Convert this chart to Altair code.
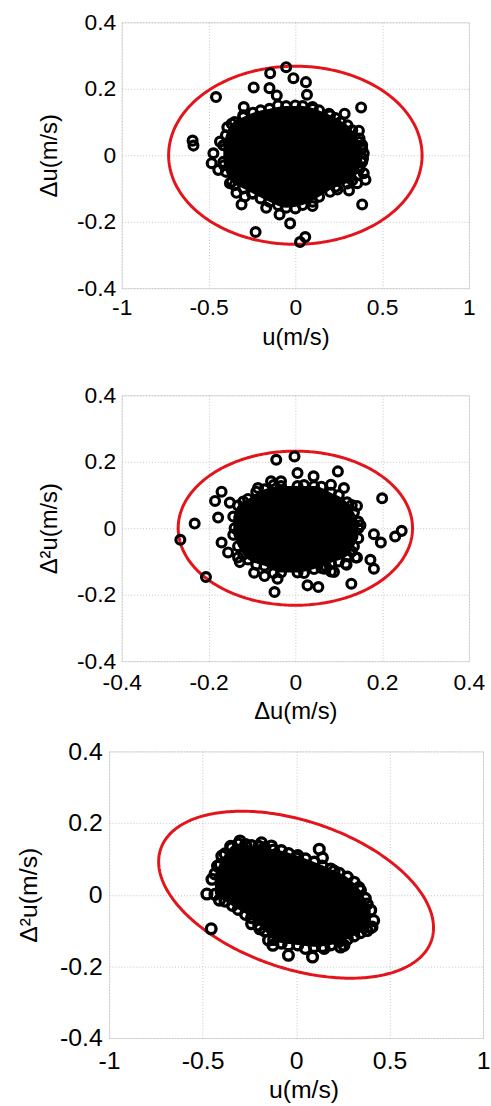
import altair as alt
import numpy as np
import pandas as pd

FONT = "Liberation Sans"

# ---- Panel 1: u against Δu ----
P1_U = [-0.053, -0.145, -0.011, 0.061, -0.240, -0.149, -0.107, 0.067, -0.457, 0.379,
        -0.297, -0.592, -0.587, 0.194, 0.284, 0.261, 0.366, -0.392, -0.434, -0.472,
        -0.482, -0.444, 0.394, 0.404, 0.385, 0.242, 0.309, -0.310, -0.291, -0.339,
        -0.168, -0.091, -0.030, -0.229, 0.027, 0.057, 0.099, -0.377, 0.356, 0.385,
        0.394, 0.099, 0.390, 0.370,
        -0.350, -0.300, -0.200, -0.100, 0.000, 0.100, 0.200, 0.300,
        -0.350, -0.250, -0.200, -0.100, 0.000, 0.100, 0.200, 0.300, 0.360,
        -0.410, -0.410, 0.380, 0.380]
P1_DU = [0.265, 0.247, 0.232, 0.220, 0.204, 0.202, 0.180, 0.182, 0.175, 0.144,
         0.145, 0.044, 0.029, 0.125, 0.125, 0.100, 0.074, 0.084, 0.041, 0.006,
         -0.024, -0.044, -0.054, -0.074, -0.148, -0.103, -0.106, -0.148, -0.124, -0.113,
         -0.158, -0.178, -0.205, -0.231, -0.261, -0.246, -0.153, -0.084, -0.084, 0.031,
         0.006, 0.145, -0.010, 0.050,
         0.100, 0.120, 0.135, 0.150, 0.150, 0.140, 0.120, 0.090,
         -0.090, -0.115, -0.130, -0.150, -0.160, -0.140, -0.110, -0.085, -0.060,
         0.030, -0.030, 0.020, -0.020]
# solid core of overlapping markers: column positions with lower / upper edge
P1_CORE_U = [-0.415, -0.400, -0.367, -0.300, -0.244, -0.149, -0.053, 0.042, 0.137, 0.232, 0.328, 0.370, 0.385]
P1_CORE_LO = [-0.020, -0.050, -0.080, -0.100, -0.115, -0.140, -0.158, -0.150, -0.125, -0.095, -0.075, -0.040, -0.020]
P1_CORE_HI = [0.030, 0.060, 0.095, 0.115, 0.128, 0.140, 0.148, 0.148, 0.135, 0.112, 0.075, 0.040, 0.020]
# confidence ellipse: x amplitude, y amplitude, phase of y (degrees)
P1_ELLIPSE = [0.73, 0.268, 90.0]

# ---- Panel 2: Δu against Δ²u ----
P2_DU = [-0.002, -0.044, 0.005, 0.098, 0.042, 0.200, -0.170, -0.185, -0.151, -0.232,
         -0.178, -0.265, -0.170, -0.155, -0.132, -0.206, -0.095, -0.071, -0.048, -0.041,
         0.028, 0.053, 0.129, 0.181, 0.173, 0.181, 0.197, 0.230, 0.245, 0.150,
         0.112, 0.082, -0.086, -0.056, -0.033, 0.142, 0.118, 0.082, 0.071, 0.142,
         -0.128, 0.066, 0.089, 0.116, 0.139,
         -0.120, -0.090, -0.050, 0.020, 0.060, 0.100, 0.130,
         -0.120, -0.090, -0.050, 0.020, 0.060, 0.100, 0.130,
         -0.140, 0.145]
P2_D2U = [0.216, 0.206, 0.166, 0.171, 0.156, 0.090, 0.110, 0.082, 0.077, 0.014,
          0.032, -0.035, -0.043, -0.073, -0.088, -0.147, -0.134, -0.144, -0.192, -0.152,
          -0.172, -0.177, -0.167, -0.122, -0.095, -0.018, -0.043, -0.025, -0.008, 0.009,
          0.121, 0.131, 0.121, 0.141, 0.141, -0.088, -0.110, -0.130, -0.117, 0.067,
          -0.102, -0.122, -0.132, -0.107, -0.088,
          0.080, 0.110, 0.130, 0.130, 0.125, 0.100, 0.070,
          -0.080, -0.110, -0.135, -0.135, -0.120, -0.100, -0.070,
          0.000, 0.000]
P2_CORE_DU = [-0.143, -0.132, -0.109, -0.071, -0.033, 0.005, 0.043, 0.082, 0.119, 0.135, 0.145]
P2_CORE_LO = [-0.020, -0.054, -0.094, -0.113, -0.133, -0.133, -0.123, -0.104, -0.084, -0.054, -0.030]
P2_CORE_HI = [0.035, 0.068, 0.088, 0.117, 0.127, 0.127, 0.127, 0.107, 0.078, 0.048, 0.020]
P2_ELLIPSE = [0.27, 0.232, 90.0]

# ---- Panel 3: u against Δ²u ----
P3_U = [-0.477, -0.454, 0.124, 0.141, -0.041, 0.088, -0.300, -0.185, -0.132, -0.397,
        -0.450, -0.238, -0.194, -0.147, -0.124, 0.150, 0.256, 0.406, 0.415, 0.380,
        0.238, 0.000, 0.203, 0.336, -0.406, -0.344,
        -0.420, -0.350, -0.270, -0.200, -0.120, -0.040, 0.050, 0.140, 0.230, 0.310, 0.370,
        -0.410, -0.340, -0.270, -0.200, -0.120, -0.040, 0.050, 0.140, 0.230, 0.310, 0.380]
P3_D2U = [0.002, -0.095, 0.127, 0.103, -0.169, -0.174, 0.150, 0.145, 0.136, 0.108,
          0.043, -0.081, -0.095, -0.127, -0.141, -0.150, -0.141, -0.090, -0.072, -0.026,
          -0.146, 0.103, 0.066, 0.020, 0.085, 0.131,
          0.080, 0.135, 0.140, 0.135, 0.125, 0.115, 0.100, 0.080, 0.060, 0.035, -0.010,
          -0.015, -0.030, -0.055, -0.085, -0.125, -0.140, -0.150, -0.145, -0.130, -0.115, -0.100]
P3_CORE_U = [-0.434, -0.380, -0.309, -0.238, -0.168, -0.079, 0.009, 0.097, 0.185, 0.274, 0.344, 0.399]
P3_CORE_LO = [0.001, -0.018, -0.041, -0.064, -0.101, -0.135, -0.140, -0.145, -0.140, -0.124, -0.106, -0.092]
P3_CORE_HI = [0.058, 0.114, 0.142, 0.137, 0.132, 0.123, 0.109, 0.091, 0.072, 0.049, 0.012, -0.043]
P3_ELLIPSE = [0.735, 0.233, 113.3]

Y_TICKS = [-0.4, -0.2, 0, 0.2, 0.4]
U_TICKS = [-1, -0.5, 0, 0.5, 1]
DU_TICKS = [-0.4, -0.2, 0, 0.2, 0.4]


def ellipse_table(params, n=361):
    x_amp, y_amp, phase = params
    t = np.linspace(0.0, 2.0 * np.pi, n)
    return pd.DataFrame({
        "x": x_amp * np.cos(t),
        "y": y_amp * np.cos(t + np.deg2rad(phase)),
        "k": np.arange(n),
    })


def panel(px, py, cx, clo, chi, ell, xdom, xticks, xtitle, ytitle,
          w, h, lfs, tfs, msize, mstroke, xlp, ylp, xtp, ytp,
          title_x=None, right_gutter=0):
    xs = alt.Scale(domain=xdom, nice=False, zero=False)
    ys = alt.Scale(domain=[-0.4, 0.4], nice=False, zero=False)
    common = dict(grid=True, gridColor="#c4c4c4", gridDash=[1, 2], gridWidth=1,
                  domain=False, ticks=False, tickSize=0, labelFlush=False,
                  labelOverlap=False, labelFont=FONT, labelFontSize=lfs,
                  labelColor="#000000", titleFont=FONT, titleFontSize=tfs,
                  titleFontWeight="normal", titleColor="#000000",
                  labelExpr="datum.value + ''")
    xextra = {} if title_x is None else {"titleX": title_x}
    xaxis = alt.Axis(values=xticks, title=xtitle, labelPadding=xlp, titlePadding=xtp,
                     **xextra, **common)
    yaxis = alt.Axis(values=Y_TICKS, title=ytitle, labelPadding=ylp, titlePadding=ytp, **common)

    core = pd.DataFrame({"x": cx, "lo": clo, "hi": chi})
    pts = pd.DataFrame({"x": list(px) + list(cx) + list(cx),
                        "y": list(py) + list(clo) + list(chi)})

    if right_gutter:
        # unlabeled right-hand axis that only reserves room on the right side
        core_y_axis = alt.Axis(orient="right", values=Y_TICKS, labels=False, grid=False,
                               domain=False, ticks=True, tickSize=right_gutter,
                               tickColor="transparent", title=None)
    else:
        core_y_axis = yaxis

    area = alt.Chart(core).mark_area(color="#000000", interpolate="monotone").encode(
        x=alt.X("x:Q", scale=xs, axis=xaxis),
        y=alt.Y("lo:Q", scale=ys, axis=core_y_axis),
        y2="hi:Q",
    )
    ring = alt.Chart(ellipse_table(ell)).mark_line(color="#e3141b", strokeWidth=3).encode(
        x=alt.X("x:Q", scale=xs, axis=xaxis),
        y=alt.Y("y:Q", scale=ys, axis=yaxis),
        order="k:Q",
    )
    dots = alt.Chart(pts).mark_point(shape="circle", filled=False, color="#000000",
                                     size=msize, strokeWidth=mstroke, opacity=1).encode(
        x=alt.X("x:Q", scale=xs, axis=xaxis),
        y=alt.Y("y:Q", scale=ys, axis=yaxis),
    )
    if right_gutter:
        inner = alt.layer(ring, dots)
        return alt.layer(inner, area).resolve_scale(y="independent").properties(width=w, height=h)
    return alt.layer(ring, area, dots).properties(width=w, height=h)


p1 = panel(P1_U, P1_DU, P1_CORE_U, P1_CORE_LO, P1_CORE_HI, P1_ELLIPSE,
           [-1, 1], U_TICKS, "u(m/s)", "Δu(m/s)",
           350, 268, 23, 24, 80, 3.2, 9, 6, 6, 15)
p2 = panel(P2_DU, P2_D2U, P2_CORE_DU, P2_CORE_LO, P2_CORE_HI, P2_ELLIPSE,
           [-0.4, 0.4], DU_TICKS, "Δu(m/s)", "Δ²u(m/s)",
           350, 268, 23, 24, 80, 3.2, 11, 6, 5, 15)
p3 = panel(P3_U, P3_D2U, P3_CORE_U, P3_CORE_LO, P3_CORE_HI, P3_ELLIPSE,
           [-1, 1], U_TICKS, "u(m/s)", "Δ²u(m/s)",
           377, 289, 25, 25, 96, 3.4, 11, 7, 4, 18,
           title_x=196, right_gutter=14)

top = alt.vconcat(p1, p2, spacing=33)
chart = alt.vconcat(top, p3, spacing=14, center=True).properties(
    padding={"left": 16, "top": 6, "right": -7, "bottom": 0}
).configure_view(stroke="#808080", strokeWidth=1.2).configure(background="#ffffff")

chart.save("out.html", embed_options={"renderer": "svg", "actions": False})
